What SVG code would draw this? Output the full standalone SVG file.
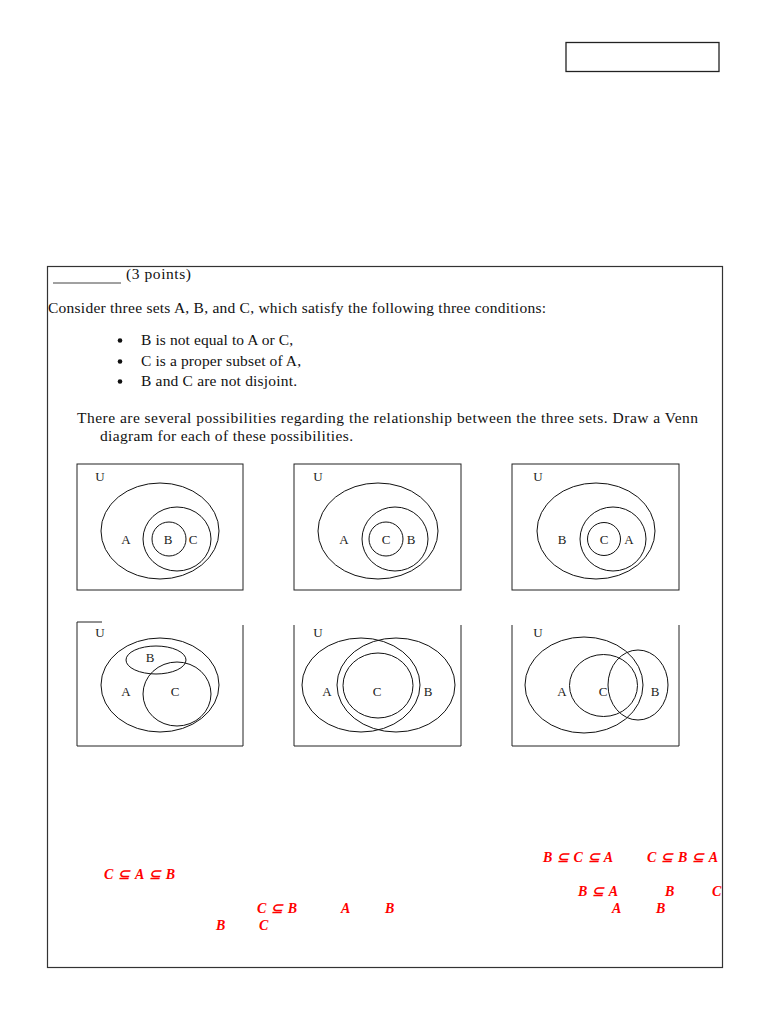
<svg xmlns="http://www.w3.org/2000/svg" width="768" height="1024" viewBox="0 0 768 1024">
<style>
.t{font-family:"Liberation Serif",serif;font-size:15.5px;fill:#111}
.v{font-family:"Liberation Serif",serif;font-size:13px;fill:#222;text-anchor:middle}
.r{font-family:"Liberation Serif",serif;font-size:14px;font-weight:bold;font-style:italic;fill:#ff0000}
.s{fill:none;stroke:#111;stroke-width:1}
.b{fill:none;stroke:#222;stroke-width:1}
</style>
<rect width="768" height="1024" fill="#fff"/>
<rect x="566" y="42.5" width="153" height="29" fill="none" stroke="#222" stroke-width="1.3"/>
<rect x="47.5" y="266.5" width="675" height="701" fill="none" stroke="#333" stroke-width="1.2"/>

<g id="header">
<line x1="53" y1="283" x2="121" y2="283" stroke="#111" stroke-width="0.8"/>
<text class="t" x="126" y="279" textLength="65" lengthAdjust="spacing">(3 points)</text>
<text class="t" x="48" y="313" textLength="498" lengthAdjust="spacing">Consider three sets A, B, and C, which satisfy the following three conditions:</text>
<circle cx="120" cy="340.5" r="2.3" fill="#111"/>
<text class="t" x="141" y="345" textLength="152" lengthAdjust="spacing">B is not equal to A or C,</text>
<circle cx="120" cy="361.5" r="2.3" fill="#111"/>
<text class="t" x="141" y="366" textLength="160" lengthAdjust="spacing">C is a proper subset of A,</text>
<circle cx="120" cy="381.5" r="2.3" fill="#111"/>
<text class="t" x="141" y="386" textLength="156" lengthAdjust="spacing">B and C are not disjoint.</text>
<text class="t" x="77" y="423" textLength="621" lengthAdjust="spacing">There are several possibilities regarding the relationship between the three sets. Draw a Venn</text>
<text class="t" x="100" y="441" textLength="253" lengthAdjust="spacing">diagram for each of these possibilities.</text>
</g>

<g id="venn1">
<rect class="b" x="77" y="464" width="166" height="126"/>
<ellipse class="s" cx="160" cy="531" rx="59" ry="48"/>
<ellipse class="s" cx="177" cy="539" rx="34" ry="32"/>
<circle class="s" cx="169" cy="539" r="17"/>
<text class="v" x="100" y="481">U</text>
<text class="v" x="126" y="544">A</text>
<text class="v" x="168" y="544">B</text>
<text class="v" x="193" y="544">C</text>
</g>

<g id="venn2">
<rect class="b" x="294" y="464" width="167" height="126"/>
<ellipse class="s" cx="378" cy="531" rx="60" ry="48"/>
<ellipse class="s" cx="395" cy="539" rx="33" ry="32"/>
<circle class="s" cx="386" cy="539" r="17"/>
<text class="v" x="318" y="481">U</text>
<text class="v" x="344" y="544">A</text>
<text class="v" x="386" y="544">C</text>
<text class="v" x="411" y="544">B</text>
</g>

<g id="venn3">
<rect class="b" x="512" y="464" width="167" height="126"/>
<ellipse class="s" cx="596" cy="531" rx="59" ry="48"/>
<ellipse class="s" cx="613" cy="539" rx="33" ry="32"/>
<circle class="s" cx="604" cy="539" r="16.5"/>
<text class="v" x="538" y="481">U</text>
<text class="v" x="562" y="544">B</text>
<text class="v" x="604" y="544">C</text>
<text class="v" x="629" y="544">A</text>
</g>

<g id="venn4">
<path class="b" d="M77 746 V622 H102 M243 625 V746 H77"/>
<ellipse class="s" cx="160" cy="685" rx="59" ry="47"/>
<ellipse class="s" cx="156" cy="660" rx="30" ry="14"/>
<ellipse class="s" cx="177" cy="694" rx="34" ry="32"/>
<text class="v" x="100" y="637">U</text>
<text class="v" x="150" y="662">B</text>
<text class="v" x="126" y="696">A</text>
<text class="v" x="175" y="696">C</text>
</g>

<g id="venn5">
<path class="b" d="M294 625 V746 H461 V625"/>
<ellipse class="s" cx="361" cy="685" rx="59" ry="47"/>
<ellipse class="s" cx="396" cy="685" rx="59" ry="47"/>
<ellipse class="s" cx="378" cy="685.5" rx="35" ry="32.5"/>
<text class="v" x="318" y="637">U</text>
<text class="v" x="327" y="696">A</text>
<text class="v" x="377" y="696">C</text>
<text class="v" x="428" y="696">B</text>
</g>

<g id="venn6">
<path class="b" d="M512 625 V746 H679 V625"/>
<ellipse class="s" cx="584" cy="685" rx="59" ry="48"/>
<ellipse class="s" cx="603.5" cy="685.5" rx="34" ry="31"/>
<ellipse class="s" cx="638" cy="685" rx="30" ry="35"/>
<text class="v" x="538" y="637">U</text>
<text class="v" x="562" y="696">A</text>
<text class="v" x="603" y="696">C</text>
<text class="v" x="655" y="696">B</text>
</g>

<g id="answers">
<text class="r" x="543" y="862" textLength="70" lengthAdjust="spacing">B ⊆ C ⊆ A</text>
<text class="r" x="647" y="862" textLength="71" lengthAdjust="spacing">C ⊆ B ⊆ A</text>
<text class="r" x="104" y="879" textLength="71" lengthAdjust="spacing">C ⊆ A ⊆ B</text>
<text class="r" x="578" y="896" textLength="40" lengthAdjust="spacing">B ⊆ A</text>
<text class="r" x="665" y="896">B</text>
<text class="r" x="712" y="896">C</text>
<text class="r" x="257" y="913" textLength="40" lengthAdjust="spacing">C ⊆ B</text>
<text class="r" x="341" y="913">A</text>
<text class="r" x="385" y="913">B</text>
<text class="r" x="612" y="913">A</text>
<text class="r" x="656" y="913">B</text>
<text class="r" x="216" y="930">B</text>
<text class="r" x="259" y="930">C</text>
</g>
</svg>
